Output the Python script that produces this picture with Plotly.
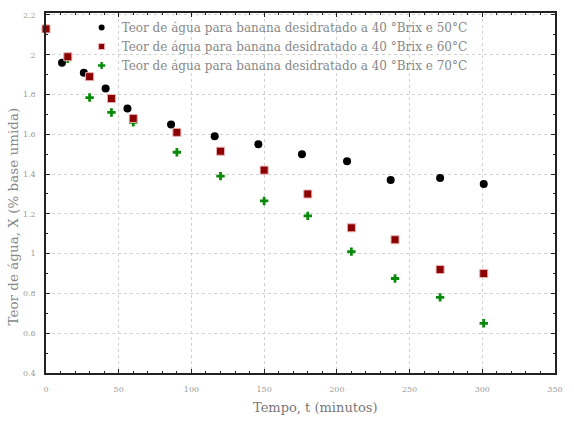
import plotly.graph_objects as go

# Data
t_50 = [-4, 11, 26, 41, 56, 86, 116, 146, 176, 207, 237, 271, 301]
x_50 = [2.10, 1.96, 1.91, 1.83, 1.73, 1.65, 1.59, 1.55, 1.50, 1.465, 1.37, 1.38, 1.35]

t_60 = [0, 15, 30, 45, 60, 90, 120, 150, 180, 210, 240, 271, 301]
x_60 = [2.13, 1.99, 1.89, 1.78, 1.68, 1.61, 1.515, 1.42, 1.30, 1.13, 1.07, 0.92, 0.90]

t_70 = [0, 15, 30, 45, 60, 90, 120, 150, 180, 210, 240, 271, 301]
x_70 = [2.13, 1.98, 1.785, 1.71, 1.66, 1.51, 1.39, 1.265, 1.19, 1.01, 0.875, 0.78, 0.65]

names = [
    "Teor de água para banana desidratado a 40 °Brix e 50°C",
    "Teor de água para banana desidratado a 40 °Brix e 60°C",
    "Teor de água para banana desidratado a 40 °Brix e 70°C",
]

x_ticks = [0, 50, 100, 150, 200, 250, 300, 350]
y_ticks = [0.4, 0.6, 0.8, 1.0, 1.2, 1.4, 1.6, 1.8, 2.0, 2.2]
y_ticktext = ["0.4", "0.6", "0.8", "1", "1.2", "1.4", "1.6", "1.8", "2", "2.2"]

x_title = "Tempo, t (minutos)"
y_title = "Teor de água, X (% base umida)"

FONT = "DejaVu Serif, serif"

styles = [
    dict(symbol="circle", color="black", line=dict(width=0)),
    dict(symbol="square", color="#8b0000", line=dict(width=1, color="#e8b0b0")),
    dict(symbol="cross", color="#0a8a0a", line=dict(width=0)),
]
sizes = [8, 8, 7]
legend_sizes = [6, 6, 6]

fig = go.Figure()
series = [(t_50, x_50), (t_60, x_60), (t_70, x_70)]
# draw order: black, green, red (red square on top of green at t=0)
for i in [0, 2, 1]:
    t, x = series[i]
    fig.add_trace(go.Scatter(
        x=t, y=x, mode="markers", name=names[i], cliponaxis=False, showlegend=False,
        marker=dict(size=sizes[i], **styles[i]),
    ))
# legend entries (same series, smaller legend symbols)
for i in range(3):
    fig.add_trace(go.Scatter(
        x=[None], y=[None], mode="markers", name=names[i], showlegend=True,
        marker=dict(size=legend_sizes[i], **styles[i]),
    ))

axis_common = dict(
    showline=True, linecolor="#222", linewidth=1.5, mirror="ticks",
    ticks="inside", ticklen=4, tickcolor="#222",
    showgrid=True, gridcolor="#d2d2d2", griddash="dot", gridwidth=1,
    zeroline=False,
    tickfont=dict(family=FONT, size=8, color="#999"),
)

fig.update_xaxes(
    range=[0, 350], tickvals=x_ticks, ticktext=[str(v) for v in x_ticks],
    minor=dict(ticks="inside", ticklen=2, tickcolor="#222", dtick=10, showgrid=False),
    ticklabelstandoff=8,
    **axis_common,
)
fig.update_yaxes(
    range=[0.4, 2.21], tickvals=y_ticks, ticktext=y_ticktext,
    minor=dict(ticks="inside", ticklen=2, tickcolor="#222", dtick=0.1, showgrid=False),
    ticklabelstandoff=7,
    **axis_common,
)

# axis titles
fig.add_annotation(
    text=x_title, xref="paper", yref="paper", x=0.53, y=-0.097,
    xanchor="center", yanchor="middle", showarrow=False,
    font=dict(family=FONT, size=13, color="#777"),
)
fig.add_annotation(
    text=y_title, xref="paper", yref="paper", x=-0.064, y=0.436,
    xanchor="center", yanchor="middle", showarrow=False, textangle=-90,
    font=dict(family=FONT, size=13.5, color="#888"),
)

fig.update_layout(
    width=574, height=423,
    margin=dict(l=46, r=12, t=11, b=50),
    paper_bgcolor="white", plot_bgcolor="white",
    showlegend=True,
    legend=dict(
        x=0.07, y=1.0, xanchor="left", yanchor="top",
        bgcolor="rgba(0,0,0,0)", borderwidth=0,
        font=dict(family=FONT, size=12, color="#888"),
        tracegroupgap=0, itemsizing="trace",
    ),
)

fig.write_html("out.html")
